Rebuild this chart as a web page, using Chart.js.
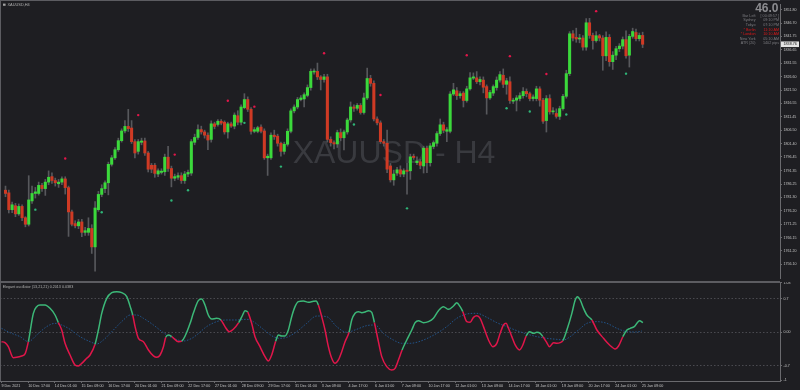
<!DOCTYPE html>
<html><head><meta charset="utf-8">
<script src="https://cdn.jsdelivr.net/npm/chart.js@4.4.1/dist/chart.umd.min.js"></script>
<style>
html,body{margin:0;padding:0;background:#1e1e22;overflow:hidden;}
#wrap{position:relative;width:800px;height:390px;background:#1e1e22;}
#c1{position:absolute;left:0;top:0;}
#c2{position:absolute;left:0;top:282px;}
</style></head><body>
<div id="wrap"><canvas id="c1" width="800" height="282"></canvas><canvas id="c2" width="800" height="108"></canvas></div>
<script>
// ---------------- DATA ----------------
const symbolLabel = 'XAUUSD,H4';
const watermark = 'XAUUSD - H4';
const xLabels = ['9 Dec 2021','10 Dec 17:00','14 Dec 01:00','15 Dec 09:00','16 Dec 17:00','20 Dec 01:00','21 Dec 09:00','22 Dec 17:00','27 Dec 01:00','28 Dec 09:00','29 Dec 17:00','31 Dec 01:00','3 Jan 09:00','4 Jan 17:00','6 Jan 01:00','7 Jan 09:00','10 Jan 17:00','12 Jan 01:00','13 Jan 09:00','14 Jan 17:00','18 Jan 01:00','19 Jan 09:00','20 Jan 17:00','24 Jan 01:00','25 Jan 09:00'];
const priceTicks = [1851.80,1846.70,1841.75,1836.65,1831.55,1826.60,1821.50,1816.55,1811.45,1806.50,1801.40,1796.45,1791.35,1786.25,1781.30,1776.20,1771.25,1766.15,1761.20,1756.10];

const opens = [1783.95,1782.97,1776.65,1778.11,1775.06,1777.86,1773.61,1771.17,1779.93,1782.73,
1782.73,1785.77,1784.55,1786.99,1789.05,1787.59,1786.38,1786.99,1788.20,1784.92,
1775.80,1771.42,1770.57,1772.03,1768.13,1768.13,1769.59,1762.66,1776.65,1782.37,
1784.55,1786.74,1793.68,1796.11,1799.15,1802.55,1806.20,1807.91,1807.30,1802.19,
1798.54,1801.95,1802.43,1797.93,1793.31,1793.31,1790.03,1790.63,1790.88,1796.35,
1792.10,1788.45,1788.81,1789.42,1787.59,1790.03,1790.39,1801.95,1803.77,1806.69,
1805.84,1804.62,1803.04,1808.88,1808.64,1809.85,1809.49,1805.84,1808.88,1808.03,
1811.92,1809.49,1814.96,1818.00,1814.35,1806.08,1806.08,1807.66,1806.20,1796.11,
1796.11,1804.62,1804.25,1801.58,1798.54,1801.21,1806.08,1813.74,1815.20,1817.99,
1818.24,1819.57,1822.50,1828.34,1828.58,1826.51,1825.54,1826.51,1803.04,1801.82,
1801.33,1805.59,1803.64,1805.83,1810.33,1815.20,1814.71,1815.81,1813.13,1818.60,
1825.90,1824.08,1810.70,1809.24,1802.19,1801.58,1793.06,1787.83,1790.39,1791.61,
1790.02,1791.48,1791.24,1796.71,1794.28,1794.64,1793.06,1799.75,1794.28,1800.36,
1801.58,1805.22,1808.51,1806.08,1806.08,1820.06,1821.28,1819.46,1820.43,1817.63,
1822.01,1826.03,1826.15,1824.69,1825.30,1822.86,1818.61,1820.43,1822.50,1825.30,
1827.12,1823.72,1824.69,1817.39,1817.76,1818.36,1819.46,1821.04,1820.19,1818.36,
1818.36,1822.01,1817.76,1810.09,1818.36,1813.38,1812.77,1811.67,1814.59,1819.22,
1827.73,1842.69,1841.35,1840.74,1841.11,1837.70,1846.83,1842.08,1840.14,1841.96,
1841.11,1834.42,1841.35,1832.23,1834.66,1837.09,1838.07,1840.50,1834.66,1841.72,
1843.18,1840.87,1842.08];
const highs = [1785.5,1784.0,1779.5,1779.0,1778.8,1778.5,1774.0,1789.4,1785.5,1785.0,
1787.0,1786.5,1788.0,1791.2,1790.5,1788.5,1788.0,1789.0,1789.0,1785.5,
1776.5,1772.5,1773.0,1773.0,1770.0,1773.6,1771.0,1779.7,1783.5,1786.0,
1787.5,1794.5,1797.0,1800.0,1803.5,1807.0,1810.1,1814.3,1810.1,1803.0,
1803.0,1803.5,1803.5,1798.5,1794.0,1794.0,1792.0,1792.0,1797.5,1800.4,
1793.0,1790.0,1790.5,1790.5,1791.0,1791.5,1803.0,1805.0,1808.5,1808.0,
1806.5,1805.5,1810.0,1809.5,1810.5,1810.5,1810.0,1809.5,1809.5,1813.0,
1813.8,1816.0,1820.2,1819.0,1815.0,1807.5,1808.0,1808.5,1807.0,1797.5,
1805.5,1806.5,1805.0,1802.0,1802.0,1807.0,1814.5,1816.0,1818.8,1819.5,
1820.5,1823.5,1829.5,1829.5,1831.7,1827.0,1827.5,1827.5,1804.0,1802.5,
1806.5,1807.0,1806.5,1811.0,1817.1,1816.0,1816.5,1816.5,1820.4,1829.8,
1827.1,1825.0,1811.5,1810.0,1803.0,1806.5,1794.0,1791.5,1792.5,1793.1,
1792.0,1794.0,1797.5,1797.5,1796.5,1795.5,1800.5,1800.5,1801.5,1802.5,
1806.0,1810.7,1809.5,1807.5,1821.0,1824.1,1822.5,1821.0,1821.0,1823.0,
1828.1,1828.0,1828.5,1826.5,1826.5,1823.5,1821.5,1823.5,1826.5,1828.5,
1829.5,1826.0,1826.5,1818.5,1819.5,1820.5,1822.5,1822.0,1820.8,1819.8,
1823.0,1822.8,1818.5,1819.5,1819.8,1815.0,1814.5,1815.5,1820.0,1829.0,
1843.5,1843.9,1844.8,1842.5,1842.0,1848.4,1848.5,1843.0,1843.5,1842.5,
1842.0,1843.4,1842.4,1836.0,1838.0,1839.0,1841.5,1843.8,1842.5,1844.8,
1844.5,1843.0,1843.3];
const lows = [1781.5,1775.4,1775.5,1774.0,1774.5,1772.5,1770.2,1770.5,1779.0,1781.0,
1782.1,1783.5,1782.0,1786.0,1786.5,1785.5,1785.0,1786.0,1782.5,1766.6,
1770.5,1769.8,1769.5,1766.5,1767.0,1767.0,1760.2,1753.5,1776.0,1781.5,
1783.0,1782.2,1793.0,1795.5,1798.5,1802.0,1805.5,1806.0,1801.5,1796.1,
1797.5,1801.0,1797.0,1790.8,1790.5,1788.8,1789.0,1790.0,1789.5,1791.0,
1785.2,1787.5,1788.0,1786.5,1786.5,1789.0,1789.5,1801.0,1803.0,1805.0,
1803.5,1799.2,1802.0,1807.0,1808.0,1808.5,1805.0,1803.5,1807.5,1807.0,
1808.5,1808.5,1814.5,1813.5,1805.0,1805.5,1805.5,1805.5,1795.5,1789.5,
1795.5,1803.0,1800.5,1796.7,1797.5,1800.5,1805.5,1813.0,1814.5,1817.5,
1815.2,1819.0,1821.5,1827.5,1825.5,1821.6,1824.5,1802.0,1800.5,1799.5,
1800.0,1802.5,1799.1,1805.0,1809.5,1813.5,1814.0,1812.5,1812.5,1818.0,
1823.0,1810.0,1808.5,1801.5,1800.5,1790.5,1787.0,1785.8,1789.5,1789.0,
1789.0,1782.5,1788.0,1795.5,1793.5,1792.0,1790.4,1790.5,1793.0,1799.5,
1800.5,1804.5,1805.5,1802.2,1805.5,1819.5,1818.0,1818.5,1815.2,1817.0,
1821.5,1825.5,1824.0,1823.5,1820.5,1812.5,1818.0,1819.5,1821.5,1824.5,
1822.5,1820.0,1816.5,1816.5,1813.7,1817.5,1818.5,1819.0,1817.5,1817.5,
1817.5,1815.5,1809.0,1805.8,1812.5,1812.5,1811.0,1810.5,1814.0,1818.5,
1827.0,1840.0,1839.5,1839.3,1836.5,1836.5,1841.0,1836.9,1839.5,1840.0,
1829.0,1832.6,1830.5,1829.3,1833.0,1836.0,1837.0,1833.5,1830.2,1841.0,
1840.0,1840.0,1837.5];
const closes = [1782.73,1776.65,1778.47,1775.06,1777.86,1773.61,1771.17,1780.30,1782.73,1783.33,
1785.77,1784.55,1786.99,1788.81,1787.59,1786.74,1786.99,1788.20,1784.92,1775.80,
1771.17,1770.57,1772.03,1768.13,1768.74,1769.59,1762.66,1777.26,1782.37,1784.55,
1786.74,1793.68,1796.11,1799.15,1802.55,1806.20,1807.91,1807.06,1802.19,1797.93,
1802.19,1802.43,1797.93,1791.85,1791.85,1790.27,1791.24,1791.12,1796.35,1792.10,
1788.45,1789.05,1789.42,1787.59,1790.03,1790.63,1802.19,1803.77,1806.69,1805.84,
1804.62,1802.80,1808.88,1807.91,1809.85,1809.12,1805.84,1808.88,1808.03,1812.16,
1809.49,1815.20,1818.00,1814.35,1806.08,1806.69,1807.42,1806.08,1796.11,1796.72,
1804.62,1804.01,1801.58,1798.54,1801.21,1806.08,1813.74,1815.20,1817.99,1818.60,
1819.82,1822.50,1828.58,1828.58,1826.51,1825.54,1826.51,1803.04,1801.82,1801.33,
1805.59,1803.64,1805.83,1810.33,1815.20,1814.71,1815.81,1813.13,1818.60,1825.90,
1824.08,1810.70,1809.24,1802.19,1801.58,1791.85,1787.83,1790.02,1791.61,1790.02,
1791.24,1791.00,1796.47,1796.22,1794.89,1793.31,1799.75,1794.28,1800.60,1801.82,
1805.22,1808.51,1806.44,1806.69,1820.06,1821.65,1819.46,1820.19,1817.63,1822.01,
1826.15,1826.51,1824.69,1825.54,1822.62,1818.61,1820.67,1822.86,1825.30,1827.36,
1823.72,1825.05,1817.63,1817.76,1818.61,1819.46,1821.04,1820.19,1818.36,1818.97,
1822.01,1817.76,1809.85,1818.36,1813.38,1813.74,1811.67,1814.59,1819.22,1827.73,
1842.69,1841.11,1840.74,1841.11,1837.70,1846.83,1842.08,1840.14,1841.96,1841.11,
1834.42,1841.35,1832.23,1834.66,1837.09,1838.07,1840.50,1834.42,1841.72,1843.54,
1840.87,1842.08,1838.76];

const upDotIdx = [18,40,51,67,75,96,113,139,152,163,178];
const upDotVal = [1795.87,1812.16,1797.32,1817.52,1815.33,1835.39,1819.70,1834.66,1834.30,1827.61,1851.20];
const dnDotIdx = [9,29,50,55,72,83,105,121,151,158,169,187];
const dnDotVal = [1776.65,1775.68,1780.06,1783.95,1809.24,1792.82,1808.63,1777.13,1814.72,1813.50,1812.40,1827.73];

const oscIdx = [0,1.05,2.05,3.55,4.55,6.05,7.05,8.05,9.55,10.55,11.55,13.05,14.55,16.05,17.05,18.05,19.05,20.55,22.05,23.05,24.05,25.55,26.55,28.05,29.05,30.05,31.55,33.05,34.55,36.05,37.55,38.75,39.35,40.05,41.05,42.55,44.05,45.55,46.55,47.55,48.55,49.25,50.05,51.05,53.05,54.05,56.55,57.5,59,60,61,62,63,64.5,65.8,67,68.3,69.5,71.1,72.3,73,73.8,75,76,77.5,79,80,81,82.2,83,84,85,86,87,88,89,90.5,92,93.5,94.3,95,96,97,98,99,100,101,102,103,104.2,105,106,107,108,109,110,111,111.8,113,114,115.5,117,118,119,120.1,121.5,123,124,125,126.5,128,129.5,131,132.5,134,135.5,136.5,137.5,138.3,139.5,140.5,141.5,142.5,143.5,144.5,146,147.3,148.5,149.5,150.5,151.3,152,153,154,155.3,156.3,157.3,158.3,159.5,160.5,161.5,162.3,163.3,164.3,165.5,166.5,167.5,168.3,169.5,171,172,172.7,173.5,174.5,175.5,177,178.5,180.5,182.3,184,185,186.3,187.5,188.5,189.7,191.3,192.3];
const oscVal = [-0.196,-0.216,-0.300,-0.530,-0.523,-0.495,-0.453,-0.196,0.396,0.535,0.570,0.570,0.500,0.361,0.201,0.048,-0.230,-0.474,-0.683,-0.704,-0.648,-0.543,-0.474,-0.251,0.048,0.396,0.709,0.828,0.849,0.828,0.744,0.500,0.361,0.117,-0.127,-0.196,-0.369,-0.494,-0.522,-0.474,-0.300,-0.105,-0.056,-0.091,-0.196,-0.182,0.187,0.396,0.660,0.695,0.570,0.361,0.278,0.292,0.257,0.118,0.013,0.062,0.201,0.361,0.452,0.424,0.187,-0.091,-0.300,-0.508,-0.599,-0.474,-0.189,-0.056,-0.077,-0.077,0.048,0.326,0.535,0.640,0.653,0.626,0.646,0.653,0.570,0.326,0.048,-0.300,-0.543,-0.648,-0.578,-0.404,-0.196,0.000,0.257,0.396,0.431,0.410,0.424,0.452,0.417,0.201,-0.196,-0.508,-0.717,-0.787,-0.752,-0.578,-0.369,-0.161,0.048,0.201,0.243,0.201,0.222,0.292,0.452,0.535,0.479,0.549,0.619,0.535,0.431,0.222,0.208,0.312,0.347,0.292,0.118,-0.161,-0.300,-0.230,-0.022,0.152,0.187,0.083,-0.091,-0.265,-0.369,-0.265,-0.077,0.013,-0.022,0.000,-0.022,-0.091,-0.196,-0.300,-0.216,-0.230,-0.216,-0.175,0.048,0.396,0.674,0.744,0.674,0.500,0.361,0.257,0.048,-0.126,-0.265,-0.348,-0.286,-0.091,0.048,0.083,0.118,0.243,0.201];
const oscUp = [0,0,0,0,0,0,0,1,1,1,1,1,1,1,0,0,0,0,0,0,0,0,0,1,1,1,1,1,1,1,1,1,0,0,0,0,0,0,0,0,0,1,1,0,0,1,1,1,1,1,1,1,1,1,0,0,0,0,1,1,1,0,0,0,0,0,0,0,1,1,1,1,1,1,1,1,1,1,1,1,0,0,0,0,0,0,0,0,0,1,1,1,1,1,1,1,1,0,0,0,0,0,0,0,1,1,1,1,1,1,1,1,1,1,1,1,1,1,0,0,0,0,0,0,0,0,0,0,0,0,0,0,0,0,0,0,1,1,1,1,1,0,0,0,0,0,0,1,1,1,1,1,1,1,1,0,0,0,0,0,0,1,1,1,1,1,1];
const sigIdx = [0,2.55,5.55,8.05,10.55,13.55,16.05,18.05,20.55,23.55,26.55,28.55,30.55,33.55,36.55,38.55,40.55,42.55,45.55,48.55,51.55,54.55,57.05,58.5,61.5,64.5,67.5,70.5,73.5,75.5,78.5,81.5,83.5,85.5,88.5,91.5,94.5,97.5,100.5,103.5,106.5,109.5,112,114.5,117.5,120,122.5,126.5,130.5,133.5,136.5,139.5,142.5,145.5,148.5,151.5,154.5,157.5,160.5,163.5,166.5,168.5,170.5,173,175.5,178.5,181.5,184.5,187.5,190.5,192];
const sigVal = [0.083,-0.008,-0.091,-0.196,-0.056,0.118,0.187,0.152,0.062,-0.091,-0.196,-0.244,-0.161,0.048,0.257,0.361,0.361,0.292,0.152,-0.008,-0.126,-0.182,-0.126,-0.056,0.118,0.222,0.257,0.257,0.271,0.222,0.062,-0.091,-0.126,-0.105,0.013,0.187,0.340,0.326,0.118,0.000,0.062,0.139,0.152,-0.022,-0.161,-0.230,-0.230,-0.161,-0.022,0.118,0.292,0.382,0.396,0.312,0.201,0.118,0.034,-0.035,-0.091,-0.126,-0.147,-0.161,-0.091,0.048,0.187,0.222,0.187,0.083,0.013,0.006,0.027];
const oscTickVals = [1.03,0.7,0,-0.7,-1.0];
const oscTickLabels = ['1.03','0.7','0.00','-0.7','-1'];
const oscTitle = 'Elegant oscillator (13,21,21) 0.2013 0.0383';
const infoBig = '46.0';
const infoLabels = ['Bar Left','Sydney','Tokyo','* Berlin','* London','New York','ATR (20)'];
const infoValues = ['[ 00:49:57 ]','09:10 PM','07:10 PM','11:10 AM','10:10 AM','05:10 AM','1402 pips'];
const infoRed = [0,0,0,1,1,0,0];

// ---------------- STYLE ----------------
const BG='#1e1e22', FRAME='#5c5c61', AXIS='#6a6a6e', TXT='#c4c4c4';
const UP='#3bd93b', DN='#cf3a24', WICK='#57585c';
const OG='#3cb878', OR='#e0164a', SIG='#21548c';
const FAM='"Liberation Sans", Arial, sans-serif';
const X_MIN=-0.45, X_MAX=233.4;
const N = closes.length;

const bgPlugin = {id:'bg', beforeDraw(c){const x=c.ctx;x.save();x.fillStyle=BG;x.fillRect(0,0,c.width,c.height);x.restore();}};

const topPlugin = {
  id:'topdeco',
  beforeDatasetsDraw(c){
    const ctx=c.ctx; ctx.save();
    ctx.font='32px '+FAM; ctx.fillStyle='#393a3f'; ctx.textAlign='center'; ctx.textBaseline='alphabetic';
    ctx.fillText(watermark, 394, 163);
    ctx.restore();
  },
  afterDraw(c){
    const ctx=c.ctx; ctx.save();
    ctx.fillStyle=FRAME;
    ctx.fillRect(0,0,780,1); ctx.fillRect(0,0,1,282); ctx.fillRect(0,281,780,1);
    // symbol label
    ctx.fillStyle='#a0a0a0'; ctx.fillRect(3,3.6,2.6,2.2);
    ctx.font='3.9px '+FAM; ctx.textAlign='left'; ctx.textBaseline='middle'; ctx.fillStyle='#b0b0b0';
    ctx.fillText(symbolLabel, 7.5, 4.8);
    // info block
    ctx.font='bold 12px '+FAM; ctx.textAlign='right'; ctx.textBaseline='alphabetic'; ctx.fillStyle='#8c8c90';
    ctx.fillText(infoBig, 778.5, 12.3);
    ctx.font='3.7px '+FAM; ctx.textBaseline='middle';
    infoLabels.forEach((l,k)=>{
      const y=15.7+k*4.6;
      ctx.fillStyle = infoRed[k] ? '#e01818' : '#7c7c80';
      ctx.textAlign='right'; ctx.fillText(l, 755.5, y);
      ctx.fillText(infoValues[k], 779, y);
    });
    // current price box
    const yp=c.scales.y.getPixelForValue(closes[N-1]);
    ctx.fillStyle='#e4e4e4'; ctx.fillRect(781, yp-2.8, 18, 5.6);
    ctx.fillStyle='#1a1a1a'; ctx.font='3.7px '+FAM; ctx.textAlign='left'; ctx.textBaseline='middle';
    ctx.fillText(closes[N-1].toFixed(2), 783.5, yp);
    ctx.restore();
  }
};

const oscPlugin = {
  id:'oscdeco',
  afterDraw(c){
    const ctx=c.ctx; ctx.save();
    ctx.fillStyle=FRAME; ctx.fillRect(0,0,780,1); ctx.fillRect(0,0,1,99);
    ctx.font='3.7px '+FAM; ctx.fillStyle='#b0b0b0'; ctx.textAlign='left'; ctx.textBaseline='middle';
    ctx.fillText(oscTitle, 2.7, 5);
    ctx.restore();
  }
};

// ---------------- MAIN CHART ----------------
const bodyData = opens.map((o,i)=>({x:i, y:[o, closes[i]]}));
const wickData = highs.map((h,i)=>({x:i, y:[lows[i], h]}));
const bodyColors = opens.map((o,i)=> closes[i]>=o ? UP : DN);

new Chart(document.getElementById('c1'), {
  type:'bar',
  data:{datasets:[
    {type:'bar', data:wickData, backgroundColor:WICK, barThickness:1, grouped:false, order:3, minBarLength:1},
    {type:'bar', data:bodyData, backgroundColor:bodyColors, barThickness:2.4, grouped:false, order:2, minBarLength:1},
    {type:'scatter', data:upDotIdx.map((x,k)=>({x:x, y:upDotVal[k]})), pointRadius:1.2, backgroundColor:'#e3164a', borderWidth:0, order:1},
    {type:'scatter', data:dnDotIdx.map((x,k)=>({x:x, y:dnDotVal[k]})), pointRadius:1.2, backgroundColor:'#2fb477', borderWidth:0, order:1}
  ]},
  options:{
    responsive:false, animation:false, devicePixelRatio:1,
    layout:{padding:0},
    plugins:{legend:{display:false}, tooltip:{enabled:false}},
    scales:{
      x:{type:'linear', min:X_MIN, max:X_MAX, offset:false, display:false},
      y:{type:'linear', position:'right', min:1750.98, max:1853.88,
         afterFit(s){s.width=20; s.paddingTop=0; s.paddingBottom=0;},
         afterBuildTicks(s){s.ticks=priceTicks.map(v=>({value:v}));},
         ticks:{autoSkip:false, color:TXT, font:{size:3.6, family:FAM}, padding:1.5, callback:v=>Number(v).toFixed(2)},
         grid:{drawOnChartArea:false, drawTicks:true, tickLength:2, color:AXIS, tickColor:AXIS},
         border:{display:true, color:AXIS}}
    }
  },
  plugins:[bgPlugin, topPlugin]
});

// ---------------- OSCILLATOR ----------------
new Chart(document.getElementById('c2'), {
  type:'line',
  data:{datasets:[
    {data:sigIdx.map((x,k)=>({x:x, y:sigVal[k]})), borderColor:SIG, borderWidth:1, borderDash:[1.5,1.5], pointRadius:0, cubicInterpolationMode:'monotone', order:2},
    {data:oscIdx.map((x,k)=>({x:x, y:oscVal[k]})), borderColor:OG, borderWidth:1.5, pointRadius:0, cubicInterpolationMode:'monotone', order:1,
     segment:{borderColor:ctx=> oscUp[ctx.p0DataIndex] ? OG : OR}}
  ]},
  options:{
    responsive:false, animation:false, devicePixelRatio:1,
    layout:{padding:0},
    plugins:{legend:{display:false}, tooltip:{enabled:false}},
    scales:{
      x:{type:'linear', min:X_MIN, max:X_MAX, offset:false,
         afterFit(s){s.height=9; s.paddingLeft=0; s.paddingRight=0;},
         afterBuildTicks(s){s.ticks=xLabels.map((l,k)=>({value:k*8}));},
         ticks:{autoSkip:false, maxRotation:0, align:'start', color:TXT, font:{size:3.7, family:FAM}, padding:0.5,
                callback:(v,i)=>xLabels[i]},
         grid:{drawOnChartArea:false, drawTicks:true, tickLength:2, color:AXIS, tickColor:AXIS},
         border:{display:true, color:AXIS}},
      y:{type:'linear', position:'right', min:-1.017, max:1.05,
         afterFit(s){s.width=20; s.paddingTop=0; s.paddingBottom=0;},
         afterBuildTicks(s){s.ticks=oscTickVals.map(v=>({value:v}));},
         ticks:{autoSkip:false, color:TXT, font:{size:3.6, family:FAM}, padding:1.5, callback:(v,i)=>oscTickLabels[i]},
         grid:{drawOnChartArea:true, drawTicks:true, tickLength:2, tickColor:AXIS,
               color:c=> (c.tick && Math.abs(c.tick.value)>0.9) ? 'rgba(0,0,0,0)' : '#4a4a50'},
         border:{display:true, color:AXIS, dash:[1.5,2]}}
    }
  },
  plugins:[bgPlugin, oscPlugin]
});
</script>
</body></html>
